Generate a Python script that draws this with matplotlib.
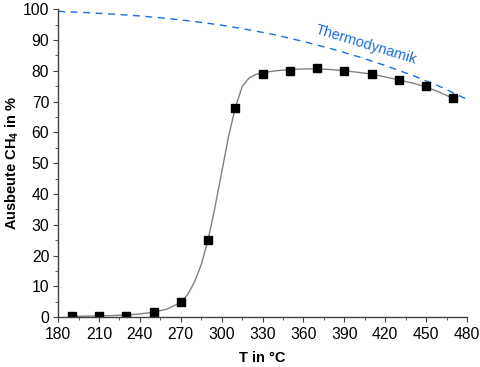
import matplotlib.pyplot as plt
from matplotlib.ticker import MultipleLocator

plt.rcParams['font.family'] = ['Liberation Sans', 'DejaVu Sans']
plt.rcParams['mathtext.fontset'] = 'custom'
plt.rcParams['mathtext.rm'] = 'Liberation Sans'
plt.rcParams['mathtext.bf'] = 'Liberation Sans:bold'

# measured yield
temps = [190, 210, 230, 250, 270, 290, 310, 330, 350, 370, 390, 410, 430, 450, 470]
yields = [0.2, 0.5, 0.5, 1.5, 5, 25, 68, 79, 80, 81, 80, 79, 77, 75, 71]

# grey guide curve
curve_t = [190, 200, 210, 220, 230, 240, 250, 260, 270, 275, 280, 285, 290, 295,
           300, 305, 310, 315, 320, 325, 330, 340, 350, 360, 370, 380, 390, 400,
           410, 420, 430, 440, 450, 460, 470]
curve_y = [0.2, 0.3, 0.4, 0.5, 0.7, 1.0, 1.6, 2.6, 4.8, 7.3, 11.3, 17, 25, 35.5,
           47, 58.5, 68, 74.8, 77.6, 78.8, 79.4, 80.0, 80.4, 80.6, 80.6, 80.4, 80.0, 79.5,
           78.9, 78.0, 77.0, 76.0, 74.7, 73.0, 71.0]

# thermodynamic equilibrium
thermo_t = [180, 200, 220, 240, 260, 280, 300, 320, 340, 360, 380, 400, 420, 440, 460, 480]
thermo_y = [99.3, 98.9, 98.4, 97.8, 97.0, 96.0, 94.8, 93.3, 91.6, 89.5, 87.2, 84.6,
            81.7, 78.5, 74.9, 70.7]

fig = plt.figure(figsize=(4.8, 3.67), dpi=100)
ax = fig.add_axes([0.121, 0.136, 0.852, 0.839])

ax.plot(thermo_t, thermo_y, color='#1a6ee0', lw=1.0, dashes=(5, 4))
ax.plot(curve_t, curve_y, color='#808080', lw=1.0)
ax.plot(temps, yields, 's', color='black', ms=5.2, ls='none')

ax.text(406, 88.3, 'Thermodynamik', color='#1a6ee0', fontsize=10.5,
        rotation=-17, ha='center', va='center', rotation_mode='anchor')

ax.set_xlim(180, 480)
ax.set_ylim(0, 100)
ax.xaxis.set_major_locator(MultipleLocator(30))
ax.xaxis.set_minor_locator(MultipleLocator(15))
ax.yaxis.set_major_locator(MultipleLocator(10))
ax.yaxis.set_minor_locator(MultipleLocator(5))

for s in ['top', 'right']:
    ax.spines[s].set_visible(False)
for s in ['left', 'bottom']:
    ax.spines[s].set_color('#404040')
    ax.spines[s].set_linewidth(1.0)

ax.tick_params(which='both', direction='out', color='#404040', labelsize=11.3)
ax.tick_params(which='major', length=3.8)
ax.tick_params(which='minor', length=2.2)
ax.tick_params(axis='x', pad=3)
ax.tick_params(axis='y', pad=2.5)

ax.set_xlabel('T in °C', fontweight='bold', fontsize=10.5, labelpad=7)
ax.set_ylabel(r'Ausbeute CH$_\mathbf{4}$ in %', fontweight='bold', fontsize=10.5,
              labelpad=1.5)

fig.savefig('out.png', dpi=100)
